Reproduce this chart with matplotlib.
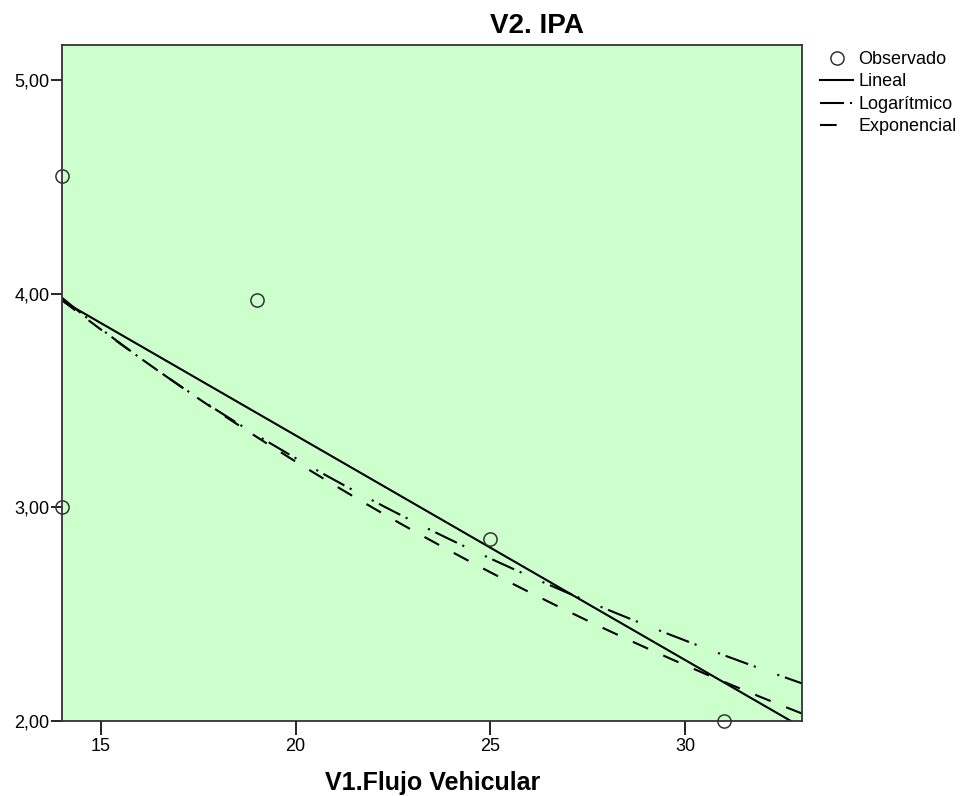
import numpy as np
import matplotlib
matplotlib.use("Agg")
import matplotlib.pyplot as plt
from matplotlib.ticker import FuncFormatter

plt.rcParams["font.family"] = ["Liberation Sans", "DejaVu Sans"]

# observed points (V1.Flujo Vehicular, V2. IPA)
flujo = np.array([14, 14, 19, 25, 31])
ipa = np.array([4.55, 3.00, 3.97, 2.85, 2.00])
x_ticks = [15, 20, 25, 30]
y_ticks = [2.0, 3.0, 4.0, 5.0]

# curve fits as SPSS does them
b_lin = np.polyfit(flujo, ipa, 1)
b_log = np.polyfit(np.log(flujo), ipa, 1)
b_exp = np.polyfit(flujo, np.log(ipa), 1)
xx = np.linspace(14, 33, 300)
y_lin = np.polyval(b_lin, xx)
y_log = np.polyval(b_log, np.log(xx))
y_exp = np.exp(np.polyval(b_exp, xx))

W, H = 968, 796
fig = plt.figure(figsize=(W/100, H/100), dpi=100)
ax = fig.add_axes([62/W, 1-721/H, (802-62)/W, (721-45)/H])
ax.set_facecolor("#ccffcc")

ax.plot(flujo, ipa, "o", ms=9.5, mfc="none", mec="#333333", mew=1.1,
        label="Observado", clip_on=False, zorder=5)
ax.plot(xx, y_lin, "-", color="black", lw=1.5, label="Lineal")
ax.plot(xx, y_log, color="black", lw=1.5, dashes=(11.5, 2.9, 1, 11, 1, 2.9),
        label="Logarítmico")
ax.plot(xx, y_exp, color="black", lw=1.5, dashes=(8, 8), label="Exponencial")

ax.set_xlim(14, 33)
ax.set_ylim(2.0, 5.165)
ax.set_xticks(x_ticks)
ax.set_yticks(y_ticks)
ax.yaxis.set_major_formatter(FuncFormatter(lambda v, p: f"{v:.2f}".replace(".", ",")))
ax.tick_params(direction="out", width=1.2, labelsize=13, colors="black")
ax.tick_params(axis="x", length=10, pad=2)
ax.tick_params(axis="y", length=8, pad=1)
for s in ax.spines.values():
    s.set_linewidth(1.3)
    s.set_color("#333333")

fig.text(537/W, 1-33/H, "V2. IPA", ha="center", va="baseline",
         fontsize=20, fontweight="bold")
fig.text(433/W, 1-790/H, "V1.Flujo Vehicular", ha="center", va="baseline",
         fontsize=18, fontweight="bold")

h, l = ax.get_legend_handles_labels()
fig.legend(h, l, loc="upper left", bbox_to_anchor=(820/W, 1-51/H), frameon=False,
           fontsize=13, handlelength=1.85, handletextpad=0.28,
           labelspacing=0.3, borderpad=0, borderaxespad=0)

fig.savefig("out.png", dpi=100, facecolor="white")
